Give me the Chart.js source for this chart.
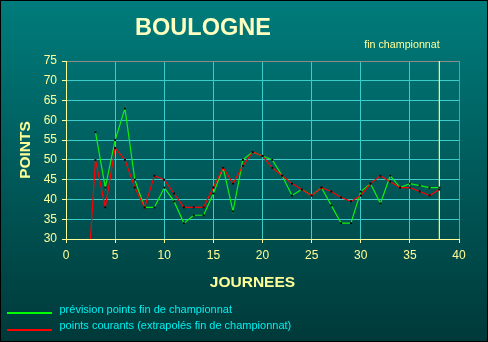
<!DOCTYPE html>
<html>
<head>
<meta charset="utf-8">
<script src="https://cdn.jsdelivr.net/npm/chart.js@4/dist/chart.umd.min.js"></script>
<style>
    html, body { margin: 0; padding: 0; background: #000; }
    #wrap { width: 488px; height: 342px; }
</style>
</head>
<body>
<div id="wrap"><canvas id="chart" width="488" height="342"></canvas></div>
<script>
var journees = [2, 3, 4, 5, 6, 7, 8, 9, 10, 11, 12, 13, 14, 15, 16, 17, 18, 19, 20,
    21, 22, 23, 24, 25, 26, 27, 28, 29, 30, 31, 32, 33, 34, 35, 36, 37, 38];
var prevision = [null, 57, 43, 55, 63, 45, 38, 38, 43, 39.5, 34, 36, 36, 41.5, 48, 37, 50, 52, 51,
    50, 46, 41, 42.5, 41, 43, 38.5, 34, 34, 42, 44, 39, 46, 43, 44, 43.5, 43, 43];
var courants = [11, 50, 38, 53, 50, 43, 38, 46, 45, 41.5, 38, 38, 38, 43, 48, 44, 48.5, 52, 51,
    48, 46, 44, 42.5, 41, 43, 42, 40.5, 39.5, 41, 44, 46, 44.5, 43, 43, 42, 41, 42.5];
var finJournee = 38;
var xTicks = [0, 5, 10, 15, 20, 25, 30, 35, 40];
var yTicks = [30, 35, 40, 45, 50, 55, 60, 65, 70, 75];

var YELLOW = '#ffff99';
var GRID = '#3ccccc';

function points(values) {
    var out = [];
    for (var i = 0; i < journees.length; i++) {
        out.push({ x: journees[i], y: values[i] });
    }
    return out;
}

// fond dégradé + cadre
var backgroundPlugin = {
    id: 'fond',
    beforeDraw: function (chart) {
        var ctx = chart.ctx;
        var g = ctx.createLinearGradient(0, 0, 0, chart.height);
        g.addColorStop(0, '#007c7c');
        g.addColorStop(1, '#003939');
        ctx.save();
        ctx.fillStyle = g;
        ctx.fillRect(0, 0, chart.width, chart.height);
        ctx.restore();
    },
    afterDraw: function (chart) {
        var ctx = chart.ctx;
        ctx.save();
        ctx.fillStyle = '#ffffc0';
        ctx.textAlign = 'center';
        ctx.textBaseline = 'alphabetic';
        ctx.font = 'bold 23.5px "Liberation Sans", Arial, sans-serif';
        ctx.fillText('BOULOGNE', 203, 35);

        ctx.fillStyle = YELLOW;
        ctx.font = '10.7px "Liberation Sans", Arial, sans-serif';
        ctx.fillText('fin championnat', 402, 48);

        ctx.fillStyle = '#ffff99';
        ctx.font = 'bold 15.5px "Liberation Sans", Arial, sans-serif';
        ctx.fillText('JOURNEES', 252.5, 287);

        ctx.save();
        ctx.translate(30, 150);
        ctx.rotate(-Math.PI / 2);
        ctx.fillText('POINTS', 0, 0);
        ctx.restore();

        // légende
        ctx.lineWidth = 2;
        ctx.strokeStyle = '#00ff00';
        ctx.beginPath();
        ctx.moveTo(7, 313);
        ctx.lineTo(52, 313);
        ctx.stroke();
        ctx.strokeStyle = '#ff0000';
        ctx.beginPath();
        ctx.moveTo(7, 330);
        ctx.lineTo(52, 330);
        ctx.stroke();

        ctx.fillStyle = '#00f0f0';
        ctx.textAlign = 'left';
        ctx.font = '11px "Liberation Sans", Arial, sans-serif';
        ctx.fillText('prévision points fin de championnat', 59.5, 313);
        ctx.fillText('points courants (extrapolés fin de championnat)', 59.5, 329);

        ctx.lineWidth = 1;
        ctx.strokeStyle = '#000';
        ctx.strokeRect(0.5, 0.5, chart.width - 1, chart.height - 1);
        ctx.restore();
    }
};

var chart = new Chart(document.getElementById('chart'), {
    type: 'line',
    data: {
        datasets: [
            {
                label: 'points courants (extrapolés fin de championnat)',
                data: points(courants),
                borderColor: '#ff0000',
                borderWidth: 1.2,
                pointStyle: 'rect',
                pointRadius: 1.3,
                pointBackgroundColor: '#000',
                pointBorderWidth: 0,
                tension: 0,
                order: 0
            },
            {
                label: 'prévision points fin de championnat',
                data: points(prevision),
                borderColor: '#10ee10',
                borderWidth: 1.2,
                pointStyle: 'rect',
                pointRadius: 1.3,
                pointBackgroundColor: '#000',
                pointBorderWidth: 0,
                tension: 0,
                order: 1
            },
            {
                label: 'fin championnat',
                data: [{ x: finJournee, y: yTicks[0] }, { x: finJournee, y: yTicks[yTicks.length - 1] + 1 }],
                borderColor: '#ffff70',
                borderWidth: 1.2,
                pointRadius: 0,
                order: 2
            }
        ]
    },
    options: {
        responsive: false,
        animation: false,
        events: [],
        layout: { padding: { top: 61, right: 29, bottom: 0, left: 0 } },
        plugins: {
            legend: { display: false },
            title: { display: false },
            tooltip: { enabled: false }
        },
        scales: {
            x: {
                type: 'linear',
                min: xTicks[0],
                max: xTicks[xTicks.length - 1],
                afterBuildTicks: function (scale) {
                    scale.ticks = xTicks.map(function (v) { return { value: v }; });
                },
                afterFit: function (scale) { scale.height = 103; },
                border: { color: YELLOW, width: 1 },
                grid: {
                    color: function (c) { return c.tick && c.tick.value === 40 ? '#8c8c8c' : GRID; },
                    tickColor: YELLOW,
                    tickLength: 4,
                    lineWidth: 1
                },
                ticks: {
                    color: YELLOW,
                    padding: 5,
                    maxRotation: 0,
                    font: { family: '"Liberation Sans", Arial, sans-serif', size: 12 }
                }
            },
            y: {
                min: yTicks[0],
                max: yTicks[yTicks.length - 1],
                afterBuildTicks: function (scale) {
                    scale.ticks = yTicks.map(function (v) { return { value: v }; });
                },
                afterFit: function (scale) { scale.width = 66; },
                border: { color: YELLOW, width: 1 },
                grid: {
                    color: function (c) { return c.tick && c.tick.value === 75 ? '#8c8c8c' : GRID; },
                    tickColor: YELLOW,
                    tickLength: 4,
                    lineWidth: 1
                },
                ticks: {
                    color: YELLOW,
                    padding: 5,
                    font: { family: '"Liberation Sans", Arial, sans-serif', size: 12 }
                }
            }
        }
    },
    plugins: [backgroundPlugin]
});
</script>
</body>
</html>
